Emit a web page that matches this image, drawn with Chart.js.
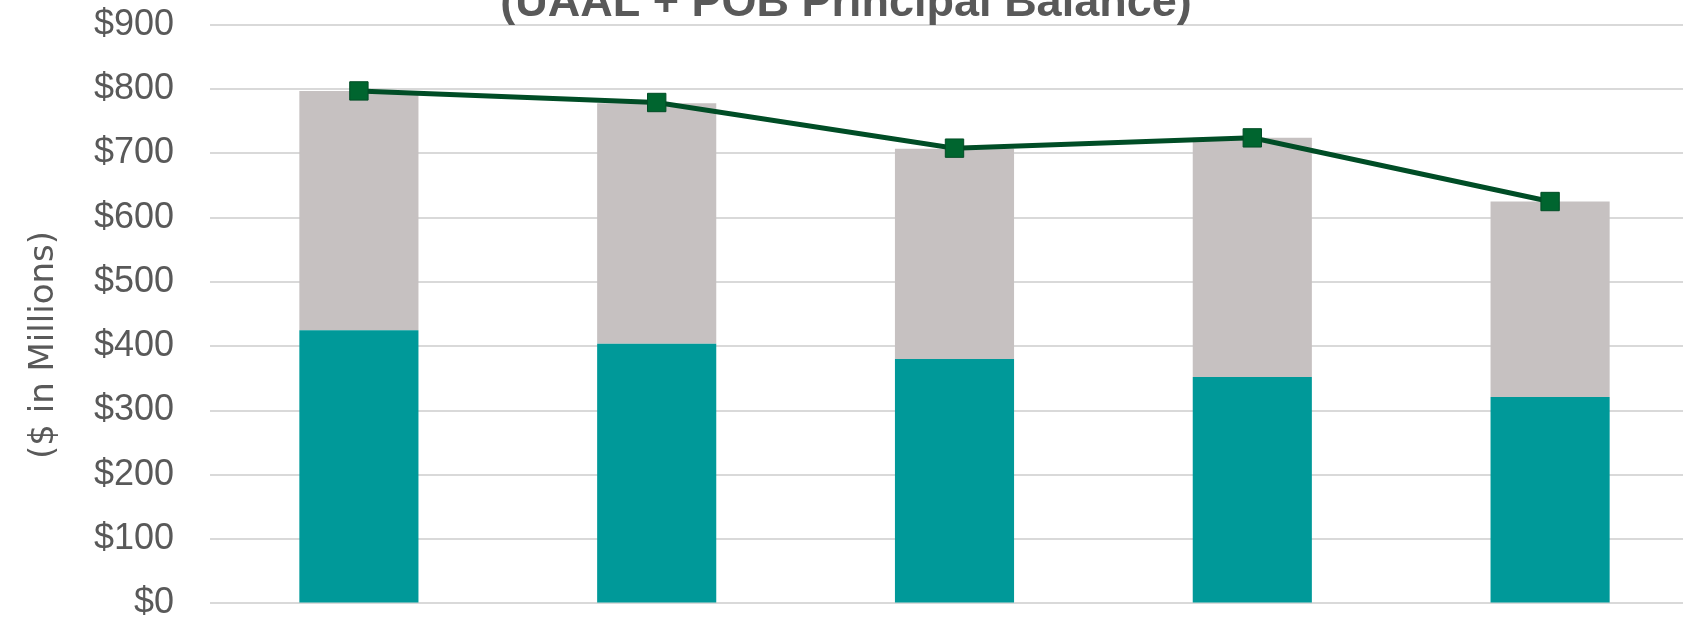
<!DOCTYPE html>
<html>
<head>
<meta charset="utf-8">
<script src="https://cdn.jsdelivr.net/npm/chart.js@4/dist/chart.umd.min.js"></script>
<style>
body{margin:0;background:#fff;overflow:hidden}
</style>
</head>
<body>
<!-- the plot runs a little past the right edge of the window, as in the reference crop -->
<canvas id="chart" width="1699" height="622"></canvas>
<script>

// x labels sit below the crop in the reference, so they are not drawn
const categories=["Year 1","Year 2","Year 3","Year 4","Year 5"]

const uaal=[425,404,380,352,321]
const pobBalance=[372,374,327,372,304]
const total=[797,779,708,724,625]

const yTicks=[0,100,200,300,400,500,600,700,800,900]

const titleText="(UAAL + POB Principal Balance)"
const yTitleText="($ in Millions)"

const textGray="#595959"

const extraText={
id:"extraText",
afterDraw(chart){
const ctx=chart.ctx
ctx.save()
ctx.fillStyle=textGray
ctx.font="bold 45px 'Liberation Sans', Arial, sans-serif"
ctx.textAlign="center"
ctx.textBaseline="alphabetic"
ctx.fillText(titleText,846,16)

ctx.translate(44,345)
ctx.rotate(-Math.PI/2)
ctx.font="34px 'DejaVu Sans', sans-serif"
ctx.textBaseline="middle"
ctx.fillText(yTitleText,0,0)
ctx.restore()
}
}

new Chart(
document.getElementById("chart"),
{
data:{
labels:categories,
datasets:[
{
type:"line",
label:"Total",
data:total,
stack:"line",
order:0,
borderColor:"#004d26",
borderWidth:5,
pointStyle:"rect",
pointRadius:13,
pointHoverRadius:13,
pointBackgroundColor:"#00652f",
pointBorderColor:"#004d26",
pointBorderWidth:1,
tension:0
},
{
type:"bar",
label:"UAAL",
data:uaal,
stack:"bars",
order:1,
backgroundColor:"#009999",
barPercentage:0.4,
categoryPercentage:1
},
{
type:"bar",
label:"POB Principal Balance",
data:pobBalance,
stack:"bars",
order:1,
backgroundColor:"#c6c1c1",
barPercentage:0.4,
categoryPercentage:1
}
]
},
options:{
responsive:false,
animation:false,
devicePixelRatio:1,
layout:{autoPadding:false,padding:{top:24.7,bottom:18.6,left:0,right:0}},
plugins:{
legend:{display:false},
title:{display:false},
tooltip:{enabled:false}
},
scales:{
x:{
display:false,
stacked:true
},
y:{
stacked:true,
min:0,
max:900,
afterBuildTicks(scale){
scale.ticks=yTicks.map(v=>({value:v}))
},
afterFit(scale){
scale.width=210
},
// invisible tick marks keep the labels 36px off the plot without adding vertical padding
grid:{color:"#d9d9d9",lineWidth:2,drawTicks:true,tickLength:36,tickColor:"rgba(0,0,0,0)"},
border:{display:false},
ticks:{
padding:0,
color:textGray,
font:{family:"'Liberation Sans', Arial, sans-serif",size:36,lineHeight:1},
callback:v=>"$"+v
}
}
}
},
plugins:[extraText]
})

</script>
</body>
</html>
